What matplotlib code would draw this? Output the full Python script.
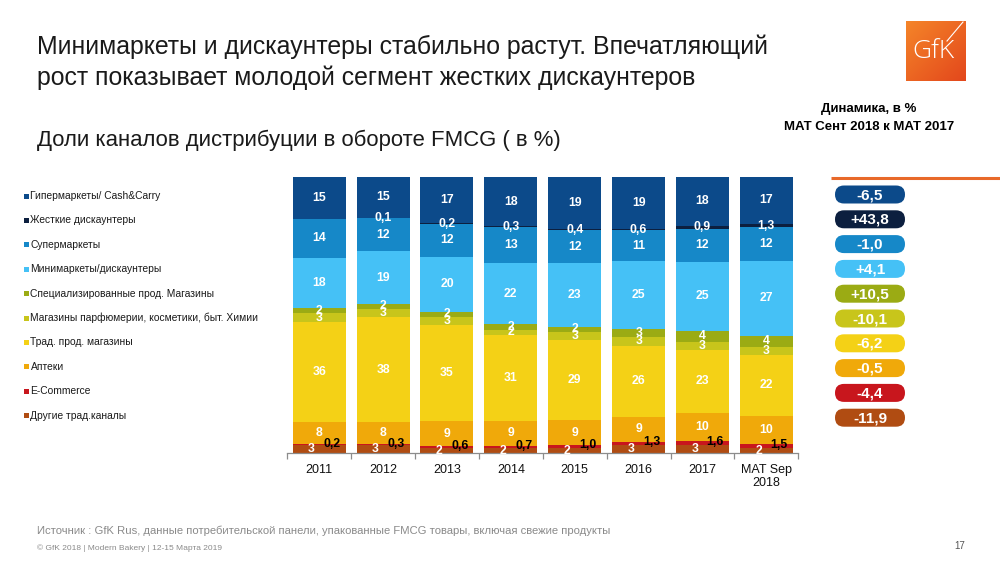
import matplotlib
matplotlib.use("Agg")
import matplotlib.pyplot as plt
import numpy as np
from matplotlib.patches import FancyBboxPatch, Rectangle

plt.rcParams['font.family'] = ['Liberation Sans', 'DejaVu Sans']

categories = ["2011", "2012", "2013", "2014", "2015", "2016", "2017", "MAT Sep\n2018"]

# stacked from bottom to top
series_names = ["Другие трад.каналы", "E-Commerce", "Аптеки", "Трад. прод. магазины",
                "Магазины парфюмерии, косметики, быт. Химии", "Специализированные прод. Магазины",
                "Минимаркеты/дискаунтеры", "Супермаркеты", "Жесткие дискаунтеры",
                "Гипермаркеты/ Cash&Carry"]
other = [3, 3, 2, 2, 2, 3, 3, 2]
ecom = [0.2, 0.3, 0.6, 0.7, 1.0, 1.3, 1.6, 1.5]
pharm = [8, 8, 9, 9, 9, 9, 10, 10]
trad = [36, 38, 35, 31, 29, 26, 23, 22]
parf = [3, 3, 3, 2, 3, 3, 3, 3]
spec = [2, 2, 2, 2, 2, 3, 4, 4]
mini = [18, 19, 20, 22, 23, 25, 25, 27]
superm = [14, 12, 12, 13, 12, 11, 12, 12]
hard = [0, 0.1, 0.2, 0.3, 0.4, 0.6, 0.9, 1.3]
hyper = [15, 15, 17, 18, 19, 19, 18, 17]

dynamics = ["-6,5", "+43,8", "-1,0", "+4,1", "+10,5", "-10,1", "-6,2", "-0,5", "-4,4", "-11,9"]

colors = ["#b04c12", "#c8161d", "#f0a90a", "#f4d116", "#c8c51b", "#9bab14",
          "#45c1f6", "#1688c8", "#0c1f3f", "#0c4a8a"]

data = [other, ecom, pharm, trad, parf, spec, mini, superm, hard, hyper]

def fmt(v):
    if float(v).is_integer() and v >= 2:
        return str(int(v))
    return ("%.1f" % v).replace(".", ",")

fig = plt.figure(figsize=(10, 5.63), dpi=100)
fig.patch.set_facecolor("white")

ax = fig.add_axes([0.2873, 1 - 453.3 / 563, 0.511, 276.6 / 563])
arr = np.array(data, dtype=float)
totals = arr.sum(axis=0)
norm = arr / totals * 100
x = np.arange(len(categories))
bottom = np.zeros(len(categories))
width = 0.83
lab_fs = 8.8
for i, (vals, col) in enumerate(zip(norm, colors)):
    ax.bar(x, vals, width, bottom=bottom, color=col, edgecolor="none", zorder=2)
    for j in range(len(categories)):
        raw = arr[i, j]
        if raw <= 0:
            continue
        yc = bottom[j] + vals[j] / 2
        if i == 0:
            ax.text(x[j] - 0.12, yc, fmt(raw), ha="center", va="center",
                    color="white", fontsize=lab_fs, fontweight="bold", zorder=4)
        elif i == 1:
            ax.text(x[j] + 0.2, yc + 0.4, fmt(raw), ha="center", va="center",
                    color="black", fontsize=lab_fs, fontweight="bold", zorder=4)
        else:
            ax.text(x[j], yc, fmt(raw), ha="center", va="center",
                    color="white", fontsize=lab_fs, fontweight="bold", zorder=4)
    bottom += vals

ax.set_xlim(-0.5, len(categories) - 0.5)
ax.set_ylim(0, 100)
for s in ["top", "right", "left"]:
    ax.spines[s].set_visible(False)
ax.spines["bottom"].set_color("#8c8c8c")
ax.spines["bottom"].set_linewidth(0.9)
ax.set_yticks([])
ax.set_xticks(x)
ax.set_xticklabels(categories, fontsize=9, color="#111111", linespacing=1.1)
ax.tick_params(axis="x", which="major", length=0, pad=8)
ax.set_xticks(np.arange(-0.5, len(categories)), minor=True)
ax.tick_params(axis="x", which="minor", length=4, color="#8c8c8c", width=0.9)

# overlay in pixel coordinates
ov = fig.add_axes([0, 0, 1, 1], zorder=5)
ov.axis("off")
ov.patch.set_alpha(0)

ov.text(37, 47, "Минимаркеты и дискаунтеры стабильно растут. Впечатляющий",
        fontsize=17.9, color="#1a1a1a", va="center", ha="left")
ov.text(37, 78, "рост показывает молодой сегмент жестких дискаунтеров",
        fontsize=17.9, color="#1a1a1a", va="center", ha="left")
ov.text(37, 140, "Доли каналов дистрибуции в обороте FMCG ( в %)",
        fontsize=15.9, color="#1a1a1a", va="center", ha="left")

ov.text(869, 109, "Динамика, в %", fontsize=9.5, fontweight="bold", ha="center", va="center")
ov.text(869, 127, "MAT Сент 2018 к MAT 2017", fontsize=9.5, fontweight="bold", ha="center", va="center")
ov.plot([831, 1000], [177.5, 177.5], color="#e8692a", lw=2.2, solid_capstyle="butt")

# GfK logo
grad = np.linspace(0, 1, 60)
gx, gy = np.meshgrid(grad, grad)
g = (gx + gy) / 2
c1 = np.array([0.96, 0.52, 0.16])
c2 = np.array([0.89, 0.28, 0.11])
img = c1[None, None, :] * (1 - g[..., None]) + c2[None, None, :] * g[..., None]
ov.imshow(img, extent=(906, 966, 81, 21), zorder=6, aspect="auto")
ov.text(934, 52, "GfK", fontsize=19, color="white", ha="center", va="center", zorder=7,
        fontfamily=["Open Sans", "DejaVu Sans"], fontweight="light")
ov.plot([947, 963], [41, 22], color="white", lw=0.8, zorder=7)
ov.set_xlim(0, 1000)
ov.set_ylim(563, 0)

# legend (top to bottom)
legend_order = list(range(len(series_names)))[::-1]
leg_y0, leg_dy = 196, 24.4
for k, idx in enumerate(legend_order):
    yy = leg_y0 + k * leg_dy
    ov.add_patch(Rectangle((24, yy - 2.5), 5, 5, color=colors[idx], lw=0))
    ov.text(30.5, yy, series_names[idx], fontsize=7.4, color="#1a1a1a", ha="left", va="center")

# dynamics badges
b_y0, b_dy = 194.5, 24.8
for k, idx in enumerate(legend_order):
    yc = b_y0 + k * b_dy
    ov.add_patch(FancyBboxPatch((835, yc - 9), 70, 18,
                                boxstyle="round,pad=0,rounding_size=9",
                                facecolor=colors[idx], edgecolor="none"))
    ov.text(870, yc + 0.5, dynamics[k], fontsize=11, fontweight="bold", color="white",
            ha="center", va="center")

ov.text(37, 531, "Источник : GfK Rus, данные потребительской панели, упакованные FMCG товары, включая свежие продукты",
        fontsize=8.1, color="#8a8a8a", ha="left", va="center")
ov.text(37, 548, "© GfK 2018 | Modern Bakery | 12-15 Марта 2019",
        fontsize=6.0, color="#8a8a8a", ha="left", va="center")
ov.text(965, 546, "17", fontsize=7, color="#555555", ha="right", va="center")

fig.savefig("out.png", dpi=100, facecolor="white")
